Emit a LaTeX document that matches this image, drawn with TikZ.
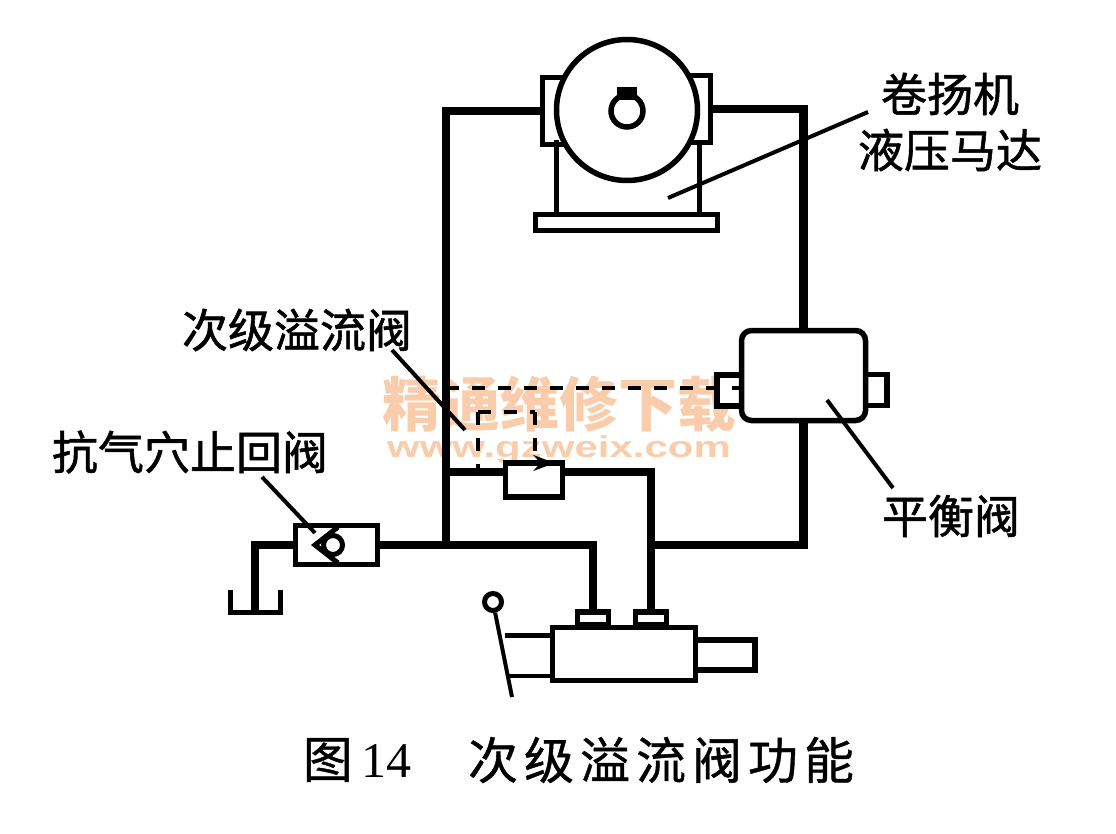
\documentclass[tikz,border=0pt]{standalone}
\usepackage{fontspec}
\usetikzlibrary{arrows.meta, positioning}
\newfontfamily\labelfont[FakeBold=1.2]{Noto Sans CJK SC}
\newfontfamily\titlefont[LetterSpace=12,FakeBold=0.8]{Noto Sans CJK SC}
\newfontfamily\stampfont{Noto Sans CJK SC}
\newfontfamily\webfont[FakeStretch=1.4]{Liberation Sans}
\setmainfont{Liberation Serif}
\definecolor{stampcolor}{HTML}{F9CDAB}

\begin{document}
\begin{tikzpicture}[
  x=1pt, y=-1pt,
  >=Stealth,
  part/.style={draw, line width=5.5pt, fill=white, inner sep=0pt, outer sep=0pt},
  pipe/.style={line width=8.5pt},
  pilot/.style={line width=4pt, dash pattern=on 13pt off 13pt},
  leader/.style={line width=4pt},
  caption/.style={font=\labelfont\fontsize{46pt}{50pt}\selectfont, inner sep=0pt},
  stamp/.style={text=stampcolor, inner sep=0pt}
]
  \useasboundingbox (0,0) rectangle (1116,834);

  % Watermark
  \node (stampA) [stamp, font=\stampfont\bfseries\fontsize{59pt}{60pt}\selectfont] at (559,404) {精通维修下载};
  \node (stampB) [stamp, font=\webfont\bfseries\fontsize{30pt}{32pt}\selectfont, below=3pt of stampA] {www.gzweix.com};

  % Junctions
  \coordinate (jA) at (446,545);
  \coordinate (jB) at (651,545);
  \coordinate (jE) at (446,472);
  \coordinate (jF) at (446,388);
  \coordinate (dA) at (478,412);
  \coordinate (dB) at (535,412);
  \coordinate (tankL) at (230,590);
  \coordinate (tankM) at (255,612);
  \coordinate (tankR) at (280,590);
  \coordinate (pedL) at (556,140);
  \coordinate (pedR) at (699,140);

  % Winch motor
  \node (base) [part, minimum width=182pt, minimum height=16pt] at (626.5,222.5) {};
  \node (motorL) [part, minimum width=30pt, minimum height=67pt] at (557.5,111) {};
  \node (motorR) [part, minimum width=30pt, minimum height=67pt] at (695.5,109) {};
  \draw [line width=5pt] (pedL) -- (pedL |- base.north);
  \draw [line width=5pt] (pedR) -- (pedR |- base.north);
  \node (motor) [part, circle, minimum size=141pt] at (627,110) {};
  \node (shaft) [part, circle, minimum size=32pt] at (627,111) {};
  \node (key) [fill, inner sep=0pt, minimum width=20pt, minimum height=13pt, above=-5pt of shaft] {};

  % Counterbalance valve
  \node (balanceL) [part, minimum width=26pt, minimum height=31pt] at (730,390.5) {};
  \node (balanceR) [part, minimum width=26pt, minimum height=31pt] at (874,390) {};
  \node (balance) [part, rounded corners=10pt, minimum width=124pt, minimum height=90pt] at (803.5,375.5) {};

  % Secondary relief valve
  \node (relief) [part, minimum width=57pt, minimum height=34pt] at (534,480) {};

  % Check valve
  \node (checkv) [part, minimum width=82pt, minimum height=39pt] at (336.5,545) {};
  \coordinate (seat) at (315,545);
  \coordinate (seatA) at (338,527);
  \coordinate (seatB) at (338,563);
  \draw [line width=5pt, line join=miter] (seatA) -- (seat) -- (seatB);
  \node (ball) [draw, fill=white, circle, line width=5pt, minimum size=19pt, inner sep=0pt] at (333,545) {};

  % Control valve
  \node (spoolR) [part, minimum width=60pt, minimum height=30pt] at (725,655) {};
  \node (spool) [part, minimum width=143pt, minimum height=53pt] at (624,654) {};
  \node (portL) [part, minimum width=31pt, minimum height=13pt, anchor=south] at (593,625) {};
  \node (portR) [part, minimum width=31pt, minimum height=13pt, anchor=south] at (651,625) {};
  \node (knob) [draw, circle, line width=5pt, minimum size=17pt, inner sep=0pt] at (493,602) {};
  \coordinate (leverEnd) at (512,697);
  \coordinate (stubA) at (505,635);
  \coordinate (stubB) at (508,676);

  % Pipes
  \draw [pipe] (motorL.west) -| (jA);
  \draw [pipe] (motorR.east) -| (balance.north);
  \draw [pipe] (balance.south) |- (jB);
  \draw [pipe] (checkv.east) -- (jA) -| (portL.north);
  \draw [pipe] (jB) -- (portR.north);
  \draw [pipe] ([yshift=8pt]relief.east) -| (jB);
  \draw [pipe] (jE) -- ([yshift=8pt]relief.west);
  \draw [pipe, line cap=butt] (checkv.west) -| (tankM);
  \draw [line width=5pt, line join=miter] (tankL) |- (tankM) -| (tankR);

  % Pilot lines
  \draw [pilot] (jF) -- (jF -| balance.west);
  \draw [pilot] (dA) -- (dB);
  \draw [pilot] (dA) -- (dA |- jE);
  \draw [pilot] (dB) -- (relief.north -| dB);

  % Relief arrow
  \draw [->, line width=4pt] (relief.north west) -- ([xshift=-8pt]relief.north east);
  \draw [line width=4pt] (knob) -- (leverEnd);
  \draw [line width=5pt] (stubA) -- (spool.west |- stubA);
  \draw [line width=4pt] (stubB) -- (spool.west |- stubB);

  % Labels
  \node (winchA) [caption] at (950,94) {卷扬机};
  \node (winchB) [caption] at (950,150) {液压马达};
  \node (reliefLabel) [caption] at (297,330) {次级溢流阀};
  \node (checkLabel) [caption] at (190,452) {抗气穴止回阀};
  \node (balanceLabel) [caption] at (951,516) {平衡阀};
  \node (titleA) [font=\titlefont\fontsize{50pt}{54pt}\selectfont, inner sep=0pt] at (357,760) {图\,{\rmfamily 14}};
  \node (titleB) [font=\titlefont\fontsize{50pt}{54pt}\selectfont, inner sep=0pt] at (661,760) {次级溢流阀功能};

  % Leaders
  \coordinate (motorTip) at (668,198);
  \coordinate (motorFar) at (868,112);
  \coordinate (reliefTip) at (465,430);
  \coordinate (reliefFar) at (392,350);
  \coordinate (checkTip) at (315,533);
  \coordinate (checkFar) at (262,477);
  \coordinate (balanceTip) at (827,400);
  \coordinate (balanceFar) at (893,488);
  \draw [leader] (motorFar) -- (motorTip);
  \draw [leader] (reliefFar) -- (reliefTip);
  \draw [leader] (checkFar) -- (checkTip);
  \draw [leader] (balanceFar) -- (balanceTip);
\end{tikzpicture}
\end{document}
